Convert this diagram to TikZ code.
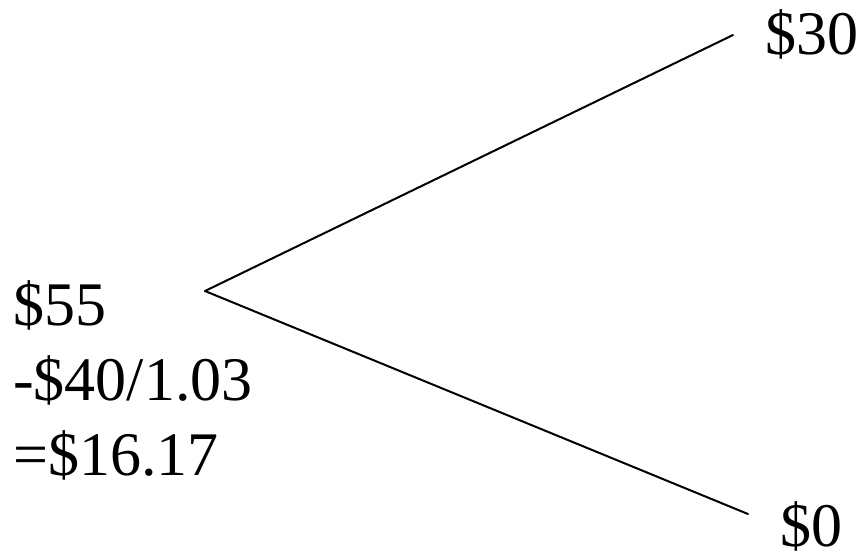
\documentclass[tikz,border=0pt]{standalone}
\usepackage{fontspec}
\setmainfont{Liberation Serif}
\begin{document}
\begin{tikzpicture}[x=1pt,y=-1pt,
  lbl/.style={inner sep=0pt,anchor=base west,font=\fontsize{62}{75}\selectfont},
  branch/.style={line width=2pt,line cap=round}]
\useasboundingbox (0,0) rectangle (867,558);
\coordinate (root) at (205,291);
\coordinate (up) at (733,35);
\coordinate (down) at (748,514);
\draw[branch] (root) -- (up);
\draw[branch] (root) -- (down);
\node[lbl] (t30) at (765,54) {\$30};
\node[lbl] (t0) at (780,546) {\$0};
\node[lbl] (l1) at (13,325) {\$55};
\node[lbl] (l2) at (13,400) {-\$40/1.03};
\node[lbl] (l3) at (13,475) {=\$16.17};
\end{tikzpicture}
\end{document}
